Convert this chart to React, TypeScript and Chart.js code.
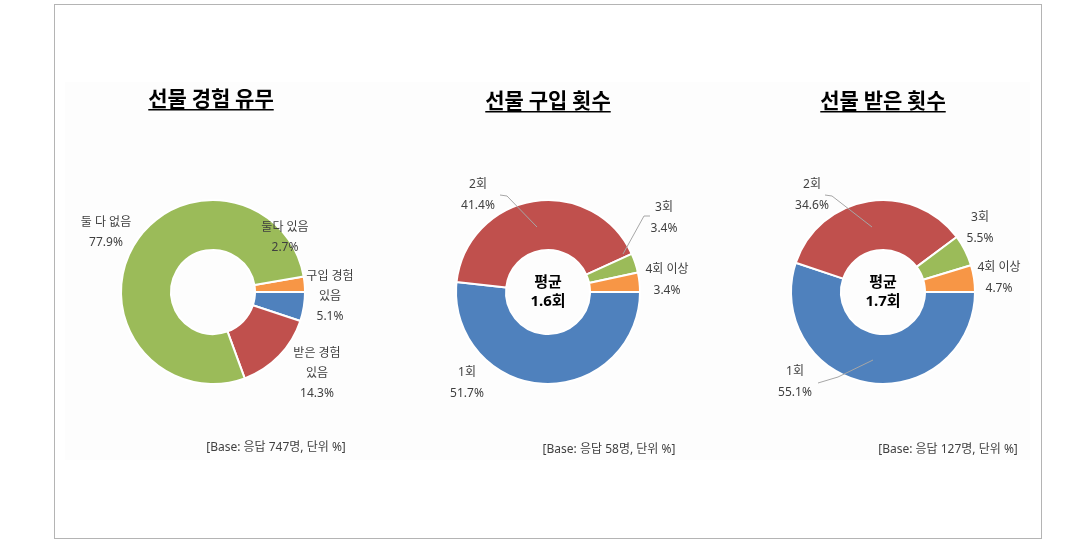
import React, { useEffect, useRef } from 'react';
import { Chart, registerables } from 'chart.js';

Chart.register(...registerables);

// ---------- data ----------
const expCategories = ['둘다 있음', '구입 경험\n있음', '받은 경험\n있음', '둘 다 없음'];
const expValues = [2.7, 5.1, 14.3, 77.9];

const buyCategories = ['1회', '2회', '3회', '4회 이상'];
const buyValues = [51.7, 41.4, 3.4, 3.4];

const recvCategories = ['1회', '2회', '3회', '4회 이상'];
const recvValues = [55.1, 34.6, 5.5, 4.7];

const chartTitles = ['선물 경험 유무', '선물 구입 횟수', '선물 받은 횟수'];
const baseNotes = ['[Base: 응답 747명, 단위 %]', '[Base: 응답 58명, 단위 %]', '[Base: 응답 127명, 단위 %]'];
const averageLabel = '평균';
const averages = [null, '1.6회', '1.7회'];

// ---------- styles / layout ----------
const GREEN = '#9BBB59';
const RED = '#C0504D';
const BLUE = '#4F81BD';
const ORANGE = '#F79646';
const TITLE_FONT = "'Noto Sans CJK KR', sans-serif";
const FONT = "'Noto Sans', 'Noto Sans CJK KR', sans-serif";
const LABEL_COLOR = '#404040';
const LEADER = '#a6a6a6';

const W = 330;
const H = 420;
const TOP = 60;
const CY = 232; // center y inside canvas (page y 292)
const R = 92;
const HOLE = 42;

type Pt = [number, number];
interface Layout {
  cx: number;
  colors: string[];
  rotation: number;
  title: Pt;
  base: Pt;
  labels: Pt[];
  lineGap: number;
  leaders: (Pt[] | null)[];
}

const layouts: Layout[] = [
  {
    cx: 213,
    colors: [ORANGE, BLUE, RED, GREEN],
    rotation: 90 - expValues[0] * 3.6,
    title: [-2, -194],
    base: [63, 156],
    labels: [[72, -64], [117, -15], [104, 62], [-107, -69]],
    lineGap: 20,
    leaders: [null, null, null, null],
  },
  {
    cx: 548,
    colors: [BLUE, RED, GREEN, ORANGE],
    rotation: 90,
    title: [0, -192],
    base: [61, 158],
    labels: [[-81, 81], [-70, -107], [116, -84], [119, -22]],
    lineGap: 21,
    leaders: [null, [[-48, -97], [-41, -96], [-11, -65]], [[102, -76], [96, -76], [75, -38]], null],
  },
  {
    cx: 883,
    colors: [BLUE, RED, GREEN, ORANGE],
    rotation: 90,
    title: [0, -192],
    base: [65, 158],
    labels: [[-88, 80], [-71, -107], [97, -74], [116, -24]],
    lineGap: 21,
    leaders: [[[-65, 91], [-45, 85], [-10, 68]], [[-58, -97], [-51, -96], [-11, -65]], null, null],
  },
];

const seriesCategories = [expCategories, buyCategories, recvCategories];
const seriesValues = [expValues, buyValues, recvValues];

function DonutPanel({ index }: { index: number }) {
  const ref = useRef<HTMLCanvasElement | null>(null);
  useEffect(() => {
    const canvas = ref.current;
    if (!canvas) return;
    const lay = layouts[index];
    const cats = seriesCategories[index];
    const vals = seriesValues[index];

    const textPlugin = {
      id: 'panelText' + index,
      afterDraw(chart: any) {
        const ctx = chart.ctx as CanvasRenderingContext2D;
        const meta = chart.getDatasetMeta(0);
        const arc = meta.data[0];
        const cx = arc ? arc.x : chart.width / 2;
        const cy = arc ? arc.y : CY;
        ctx.save();
        // leader lines
        ctx.strokeStyle = LEADER;
        ctx.lineWidth = 1;
        lay.leaders.forEach((pts) => {
          if (!pts) return;
          ctx.beginPath();
          pts.forEach((p, i) => {
            if (i === 0) ctx.moveTo(cx + p[0], cy + p[1]);
            else ctx.lineTo(cx + p[0], cy + p[1]);
          });
          ctx.stroke();
        });
        // title
        ctx.fillStyle = '#000';
        ctx.font = `bold 21px ${TITLE_FONT}`;
        ctx.textAlign = 'center';
        ctx.textBaseline = 'middle';
        const tx = cx + lay.title[0];
        const ty = cy + lay.title[1];
        ctx.fillText(chartTitles[index], tx, ty);
        const tw = ctx.measureText(chartTitles[index]).width;
        ctx.fillRect(tx - tw / 2, ty + 11, tw, 1.5);
        // labels
        ctx.fillStyle = LABEL_COLOR;
        ctx.font = `12px ${FONT}`;
        cats.forEach((c, i) => {
          const lines = c.split('\n').concat([`${vals[i].toFixed(1)}%`]);
          const [dx, dy] = lay.labels[i];
          lines.forEach((ln, j) => {
            ctx.fillText(ln, cx + dx, cy + dy + j * lay.lineGap);
          });
        });
        // base note
        ctx.fillText(baseNotes[index], cx + lay.base[0], cy + lay.base[1]);
        // center average
        const avg = averages[index];
        if (avg) {
          ctx.fillStyle = '#000';
          ctx.font = `bold 15px ${FONT}`;
          ctx.fillText(averageLabel, cx, cy - 9);
          ctx.fillText(avg, cx, cy + 10);
        }
        ctx.restore();
      },
    };

    const padX = W / 2 - (R + 1);
    const padTop = CY - (R + 1);
    const padBottom = H - padTop - 2 * (R + 1);

    const chart = new Chart(canvas, {
      type: 'doughnut',
      data: {
        labels: cats,
        datasets: [
          {
            data: vals,
            backgroundColor: lay.colors,
            borderColor: '#ffffff',
            borderWidth: 2,
          },
        ],
      },
      options: {
        responsive: false,
        animation: false,
        rotation: lay.rotation,
        radius: R,
        cutout: `${(HOLE / R) * 100}%`,
        layout: { padding: { left: padX, right: padX, top: padTop, bottom: padBottom } },
        plugins: {
          legend: { display: false },
          tooltip: { enabled: false },
          title: { display: false },
        },
      } as any,
      plugins: [textPlugin],
    });
    return () => chart.destroy();
  }, [index]);

  const lay = layouts[index];
  return (
    <canvas
      ref={ref}
      width={W}
      height={H}
      style={{ position: 'absolute', left: lay.cx - W / 2, top: TOP, width: W, height: H }}
    />
  );
}

export default function App() {
  return (
    <div style={{ position: 'absolute', left: 0, top: 0, width: 1071, height: 557, background: '#fff', overflow: 'hidden' }}>
      <div
        style={{
          position: 'absolute',
          left: 54,
          top: 4,
          width: 988,
          height: 535,
          border: '1px solid #b4b4b4',
          boxSizing: 'border-box',
        }}
      />
      <div style={{ position: 'absolute', left: 65, top: 82, width: 965, height: 378, background: '#fdfdfd' }} />
      {[0, 1, 2].map((i) => (
        <DonutPanel key={i} index={i} />
      ))}
    </div>
  );
}
